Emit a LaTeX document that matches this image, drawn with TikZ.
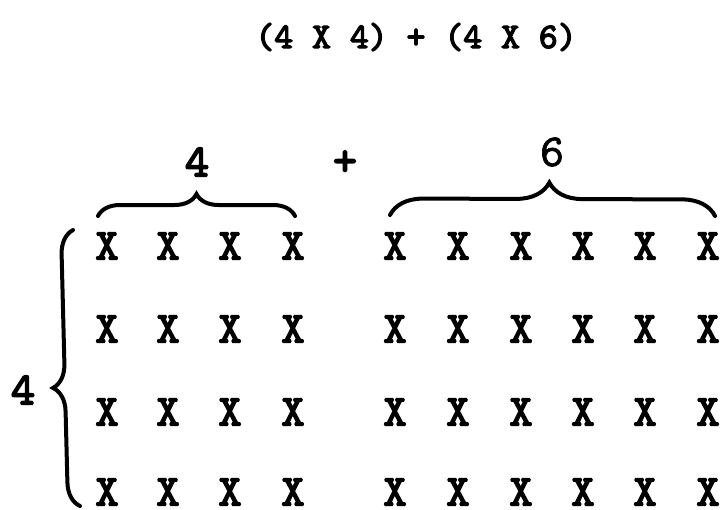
\documentclass[tikz,border=0pt]{standalone}
\usepackage{fontspec}
\newfontfamily\typew{lmmono10-regular.otf}[FakeBold=3.5]
\newfontfamily\typewlight{lmmono10-regular.otf}[FakeBold=1.5]
\usetikzlibrary{decorations.pathreplacing, positioning}

\begin{document}
\begin{tikzpicture}[x=1pt, y=-1pt,
  cell/.style={font=\typew\fontsize{44}{44}\selectfont, inner sep=0pt},
  lbl/.style={font=\typew\fontsize{46}{46}\selectfont, inner sep=0pt},
  curly/.style={decorate, decoration={brace, amplitude=#1}, line width=4pt, line cap=round}]
\useasboundingbox (0,0) rectangle (727,509);

% sum written out
\node[font=\typew\fontsize{36}{36}\selectfont, inner sep=0pt] (title) at (416,37) {(4 X 4) + (4 X 6)};

% the 4 rows of crosses, 4 on the left, 6 on the right
\foreach \r [count=\i] in {246,329,412,492} {
  \foreach \c [count=\j] in {107,168,230,293}
    \node[cell] (l-\i-\j) at (\c,\r) {X};
  \foreach \c [count=\j] in {395,458,521,583,645,708}
    \node[cell] (r-\i-\j) at (\c,\r) {X};
}

% braces
\coordinate (tl-a) at (98,216);  \coordinate (tl-b) at (295,216);
\coordinate (tr-a) at (390,215); \coordinate (tr-b) at (715,216);
\coordinate (lf-a) at (80,506);  \coordinate (lf-b) at (73,230);
\draw[curly=22pt] (tl-a) -- (tl-b);
\draw[curly=33pt, decoration={aspect=0.49}] (tr-a) -- (tr-b);
\draw[curly=24pt, decoration={aspect=0.43}] (lf-a) -- (lf-b);

% counts
\node[lbl] (n-left) at (197,162) {4};
\node[font=\typew\fontsize{46}{46}\selectfont, inner sep=0pt] (plus) at (345,163) {+};
\node[lbl, font=\typewlight\fontsize{46}{46}\selectfont] (n-right) at (552,152) {6};
\node[lbl] (n-rows) at (23,390) {4};
\end{tikzpicture}
\end{document}
